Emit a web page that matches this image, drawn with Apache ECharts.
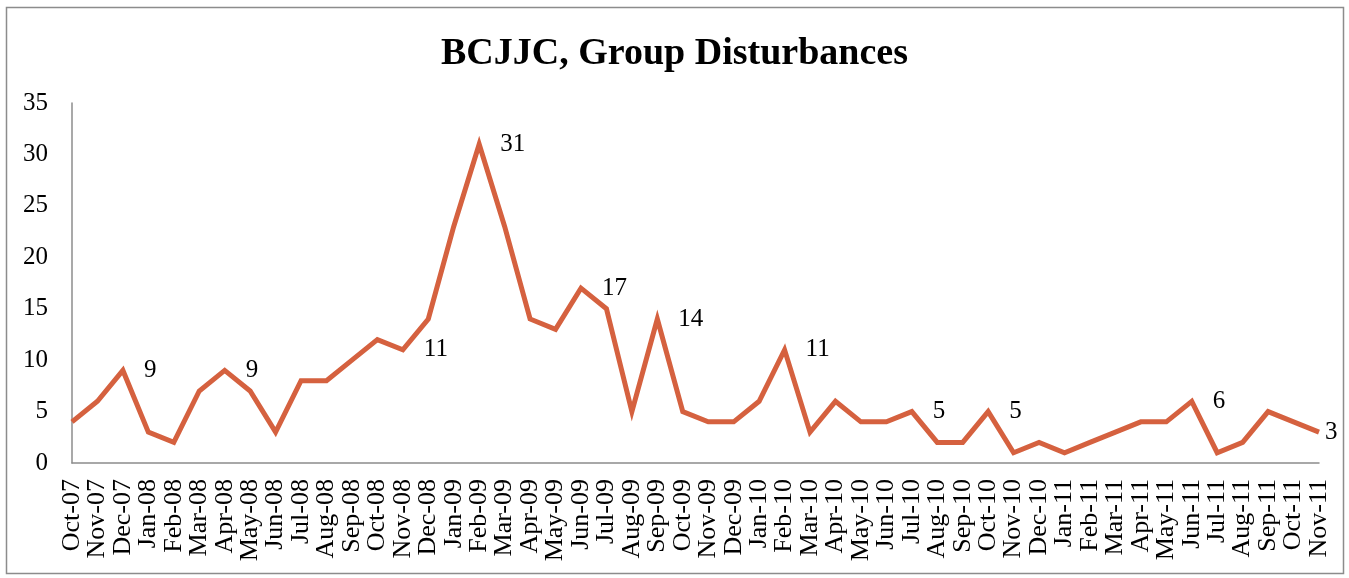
<!DOCTYPE html>
<html>
<head>
<meta charset="utf-8">
<script src="https://cdn.jsdelivr.net/npm/echarts@6/dist/echarts.min.js"></script>
<style>
html,body{margin:0;padding:0;background:#fff;}
#chart{width:1349px;height:578px;}
</style>
</head>
<body>
<div id="chart"></div>
<script>
const categories = [
  "Oct-07","Nov-07","Dec-07",
  "Jan-08","Feb-08","Mar-08","Apr-08","May-08","Jun-08","Jul-08","Aug-08","Sep-08","Oct-08","Nov-08","Dec-08",
  "Jan-09","Feb-09","Mar-09","Apr-09","May-09","Jun-09","Jul-09","Aug-09","Sep-09","Oct-09","Nov-09","Dec-09",
  "Jan-10","Feb-10","Mar-10","Apr-10","May-10","Jun-10","Jul-10","Aug-10","Sep-10","Oct-10","Nov-10","Dec-10",
  "Jan-11","Feb-11","Mar-11","Apr-11","May-11","Jun-11","Jul-11","Aug-11","Sep-11","Oct-11","Nov-11"
];
const disturbances = [
  4,6,9,
  3,2,7,9,7,3,8,8,10,12,11,14,
  23,31,23,14,13,17,15,5,14,5,4,4,
  6,11,3,6,4,4,5,2,2,5,1,2,
  1,2,3,4,4,6,1,2,5,4,3
];
const labeledMonths = ["Dec-07","Apr-08","Nov-08","Feb-09","Jun-09","Sep-09","Feb-10","Jul-10","Oct-10","Jun-11","Nov-11"];
const yTicks = [0,5,10,15,20,25,30,35];

const serif = '"Liberation Serif", "Times New Roman", serif';

const seriesData = disturbances.map((v, i) => {
  const cat = categories[i];
  if (labeledMonths.indexOf(cat) >= 0) {
    const last = i === categories.length - 1;
    return { value: v, label: { show: true, position: 'right', distance: last ? 6 : 21 } };
  }
  return v;
});

const chart = echarts.init(document.getElementById('chart'));
chart.setOption({
  animation: false,
  backgroundColor: '#fff',
  title: {
    text: 'BCJJC, Group Disturbances',
    left: 'center',
    top: 30,
    textStyle: { fontFamily: serif, fontWeight: 'bold', fontSize: 38, color: '#000' }
  },
  graphic: [{
    type: 'rect',
    shape: { x: 6.5, y: 7.5, width: 1337, height: 566 },
    style: { fill: 'none', stroke: '#8c8c8c', lineWidth: 1.5 },
    silent: true
  }],
  grid: { left: 72, right: 30, top: 103, bottom: 115, containLabel: false },
  xAxis: {
    type: 'category',
    data: categories,
    boundaryGap: false,
    axisLine: { lineStyle: { color: '#8c8c8c', width: 1.5 } },
    axisTick: { show: false },
    axisLabel: {
      interval: 0, rotate: 90, margin: 16,
      fontFamily: serif, fontSize: 26, color: '#000'
    },
    splitLine: { show: false }
  },
  yAxis: {
    type: 'value',
    min: yTicks[0], max: yTicks[yTicks.length - 1], interval: 5,
    axisLine: { show: true, lineStyle: { color: '#8c8c8c', width: 1.5 } },
    axisTick: { show: false },
    axisLabel: { margin: 24, fontFamily: serif, fontSize: 25, color: '#000' },
    splitLine: { show: false }
  },
  series: [{
    type: 'line',
    data: seriesData,
    showSymbol: true,
    symbol: 'circle',
    symbolSize: 0,
    lineStyle: { color: '#D5613F', width: 5, join: 'miter' },
    itemStyle: { color: '#D5613F' },
    label: { show: false, fontFamily: serif, fontSize: 25, color: '#000' }
  }]
});
</script>
</body>
</html>
